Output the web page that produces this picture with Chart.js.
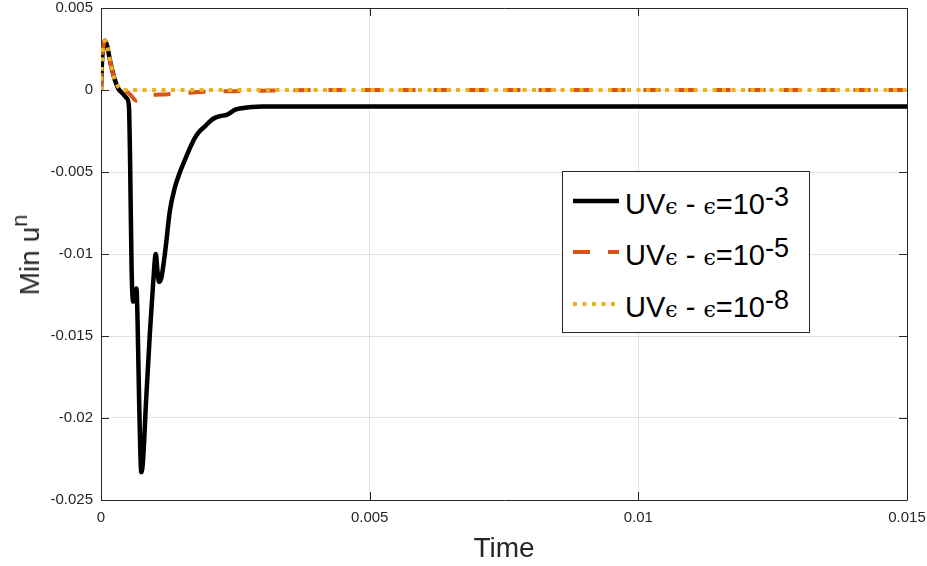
<!DOCTYPE html>
<html>
<head>
<meta charset="utf-8">
<script src="https://cdn.jsdelivr.net/npm/chart.js@4/dist/chart.umd.min.js"></script>
<style>
  html, body { margin: 0; padding: 0; background: #fff; }
  #wrap { position: relative; width: 927px; height: 566px; font-family: "Liberation Sans", Arial, sans-serif; color: #262626; }
  #chart { position: absolute; left: 0; top: 0; }
  .title { position: absolute; font-size: 28px; line-height: 28px; white-space: nowrap; color: #262626; }
  #xtitle { left: 504px; top: 534px; transform: translateX(-50%); }
  #ytitle { left: 30px; top: 255px; transform: translate(-50%, -50%) rotate(-90deg); }
  #ytitle sup { font-size: 22px; vertical-align: 12px; line-height: 0; }
  #legend { position: absolute; left: 562px; top: 171px; width: 246px; height: 160px; border: 1px solid #262626; background: #fff; }
  .row { position: absolute; left: 62px; font-size: 29px; line-height: 29px; white-space: nowrap; color: #000; }
  .row .eps { font-family: "DejaVu Serif", serif; font-size: 22px; }
  .row sup { font-size: 27px; vertical-align: 8px; line-height: 0; }
  #legend svg { position: absolute; left: 0; top: 0; }
</style>
</head>
<body>
<div id="wrap">
  <canvas id="chart" width="927" height="566"></canvas>
  <div id="xtitle" class="title">Time</div>
  <div id="ytitle" class="title">Min u<sup>n</sup></div>
  <div id="legend"></div>
</div>
<script>
// values
const blackTime = [0, 0.00002, 0.00005, 0.00008, 0.00012, 0.00018, 0.00025, 0.00032, 0.0004, 0.00048, 0.00052, 0.00054, 0.00057, 0.0006, 0.00063, 0.00066, 0.00068, 0.00071, 0.00075, 0.00078, 0.00084, 0.00091, 0.00097, 0.00102, 0.00105, 0.00108, 0.00112, 0.0012, 0.00128, 0.00137, 0.00147, 0.00157, 0.00166, 0.00175, 0.00184, 0.00194, 0.00203, 0.00212, 0.00221, 0.00235, 0.0025, 0.00265, 0.0028, 0.003, 0.015];
const blackVal = [0, 0.0018, 0.0028, 0.003, 0.0026, 0.0016, 0.0007, 0.0001, -0.0002, -0.0005, -0.001, -0.004, -0.011, -0.0129, -0.0127, -0.0121, -0.014, -0.019, -0.0233, -0.0227, -0.0189, -0.0148, -0.0118, -0.01, -0.011, -0.0117, -0.0115, -0.0097, -0.0074, -0.006, -0.005, -0.0042, -0.0035, -0.0029, -0.0025, -0.0022, -0.0019, -0.0017, -0.0016, -0.0015, -0.0012, -0.0011, -0.00104, -0.001, -0.001];

const redTime = [0, 0.00002, 0.00005, 0.00008, 0.00012, 0.00018, 0.00025, 0.00032, 0.0004, 0.00048, 0.00055, 0.0006, 0.00065, 0.0007, 0.00078, 0.0009, 0.0011, 0.0014, 0.0017, 0.002, 0.0025, 0.003, 0.004, 0.015];
const redVal = [0, 0.0018, 0.0028, 0.003, 0.0026, 0.0016, 0.0007, 0.0002, 0, -0.0001, -0.0003, -0.0005, -0.00065, -0.0006, -0.0004, -0.0003, -0.00028, -0.00022, -0.00015, -0.0001, -0.00007, -0.00004, 0, 0];

const yellowTime = [0, 0.00002, 0.00005, 0.00008, 0.00012, 0.00018, 0.00025, 0.00032, 0.0004, 0.015];
const yellowVal = [0, 0.0018, 0.0028, 0.003, 0.0026, 0.0016, 0.0007, 0.0002, 0, 0];

const xTickVals = [0, 0.005, 0.01, 0.015];
const xTickLabels = ["0", "0.005", "0.01", "0.015"];
const yTickVals = [0.005, 0, -0.005, -0.01, -0.015, -0.02, -0.025];
const yTickLabels = ["0.005", "0", "-0.005", "-0.01", "-0.015", "-0.02", "-0.025"];

const seriesExp = ["-3", "-5", "-8"];
const seriesColors = ["#000000", "#D95319", "#EDB120"];
const seriesDash = [[], [17, 18], [4, 5.5]];
const seriesWidth = [4.5, 4, 4];

const toPoints = (ts, vs) => ts.map((t, i) => ({ x: t, y: vs[i] }));

// axes box with inward ticks, drawn under the data like matlab
const boxPlugin = {
    id: "box",
    beforeDatasetsDraw(chart) {
        const { ctx, chartArea: a, scales: { x, y } } = chart;
        ctx.save();
        ctx.strokeStyle = "#262626";
        ctx.lineWidth = 1;
        ctx.beginPath();
        ctx.rect(Math.round(a.left) + 0.5, Math.round(a.top) + 0.5, Math.round(a.right - a.left), Math.round(a.bottom - a.top));
        xTickVals.forEach(v => {
            const px = Math.round(x.getPixelForValue(v)) + 0.5;
            ctx.moveTo(px, a.bottom); ctx.lineTo(px, a.bottom - 8);
            ctx.moveTo(px, a.top); ctx.lineTo(px, a.top + 8);
        });
        yTickVals.forEach(v => {
            const py = Math.round(y.getPixelForValue(v)) + 0.5;
            ctx.moveTo(a.left, py); ctx.lineTo(a.left + 8, py);
            ctx.moveTo(a.right, py); ctx.lineTo(a.right - 8, py);
        });
        ctx.stroke();
        ctx.restore();
    }
};

const tickFont = { family: "'Liberation Sans', Arial, sans-serif", size: 15 };

new Chart(document.getElementById("chart"), {
    type: "line",
    data: {
        datasets: [
            { label: "e-3", data: toPoints(blackTime, blackVal), borderColor: seriesColors[0], borderWidth: seriesWidth[0], borderDash: seriesDash[0], order: 3 },
            { label: "e-5", data: toPoints(redTime, redVal), borderColor: seriesColors[1], borderWidth: seriesWidth[1], borderDash: seriesDash[1], order: 2 },
            { label: "e-8", data: toPoints(yellowTime, yellowVal), borderColor: seriesColors[2], borderWidth: seriesWidth[2], borderDash: seriesDash[2], borderCapStyle: "butt", order: 1 }
        ]
    },
    options: {
        responsive: false,
        animation: false,
        devicePixelRatio: 1,
        elements: { point: { radius: 0 }, line: { tension: 0, cubicInterpolationMode: "monotone", borderJoinStyle: "round" } },
        layout: { padding: { top: 8, right: 20, left: 0, bottom: 0 } },
        plugins: { legend: { display: false }, tooltip: { enabled: false } },
        scales: {
            x: {
                type: "linear", min: 0, max: 0.015,
                afterBuildTicks: s => { s.ticks = xTickVals.map(v => ({ value: v })); },
                afterFit: s => { s.height = 66; s.paddingLeft = 0; s.paddingRight = 0; },
                grid: { color: "rgba(38,38,38,0.13)", drawTicks: false },
                border: { display: false },
                ticks: { font: tickFont, color: "#262626", padding: 9, maxRotation: 0,
                    callback: v => xTickLabels[xTickVals.findIndex(t => Math.abs(t - v) < 1e-9)] }
            },
            y: {
                type: "linear", min: -0.025, max: 0.005,
                afterBuildTicks: s => { s.ticks = yTickVals.map(v => ({ value: v })); },
                afterFit: s => { s.width = 101; s.paddingTop = 0; s.paddingBottom = 0; },
                grid: { color: "rgba(38,38,38,0.13)", drawTicks: false },
                border: { display: false },
                ticks: { font: tickFont, color: "#262626", padding: 8,
                    callback: v => yTickLabels[yTickVals.findIndex(t => Math.abs(t - v) < 1e-9)] }
            }
        }
    },
    plugins: [boxPlugin]
});

// legend with superscripts, as html
const legend = document.getElementById("legend");
const rowY = [29, 80, 132];
let svg = '<svg width="246" height="160">';
seriesColors.forEach((c, i) => {
    svg += `<line x1="10" x2="56" y1="${rowY[i]}" y2="${rowY[i]}" stroke="${c}" stroke-width="${seriesWidth[i]}" stroke-dasharray="${seriesDash[i].join(",") || "none"}"/>`;
});
svg += "</svg>";
legend.innerHTML = svg + seriesExp.map((e, i) =>
    `<div class="row" style="top:${rowY[i] - 11}px">UV<span class="eps">ϵ</span> - <span class="eps">ϵ</span>=10<sup>${e}</sup></div>`
).join("");
</script>
</body>
</html>
